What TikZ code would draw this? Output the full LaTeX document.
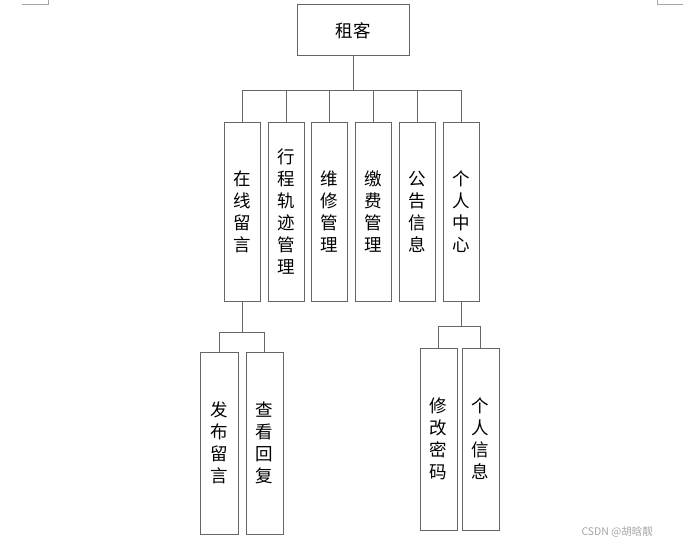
\documentclass[tikz,border=0pt]{standalone}
\usepackage{fontspec}
\setmainfont{Noto Sans CJK SC}
\begin{document}
\begin{tikzpicture}[x=1pt,y=-1pt,
  box/.style={draw=black!60,line width=1pt,fill=white,inner sep=0pt,align=center,font=\fontsize{17.5}{22}\selectfont},
  vbox/.style={box,minimum width=36pt,minimum height=178pt},
  lbox/.style={box,minimum width=37pt,minimum height=182pt},
  link/.style={draw=black!60,line width=1pt},
  cornermark/.style={draw=black!35,line width=0.8pt}]
\useasboundingbox[fill=white] (0,0) rectangle (700,545);
% corner marks
\coordinate (tl1) at (22,4); \coordinate (tl2) at (48,4); \coordinate (tl3) at (48,0);
\coordinate (tr1) at (683,4); \coordinate (tr2) at (657,4); \coordinate (tr3) at (657,0);
\draw[cornermark] (tl1) -- (tl2) -- (tl3);
\draw[cornermark] (tr1) -- (tr2) -- (tr3);
% root
\node[box,minimum width=112pt,minimum height=51pt] (root) at (353,30.5) {租客};
% level 1
\node[vbox] (c1) at (242,212) {在\\线\\留\\言};
\node[vbox] (c2) at (286,212) {行\\程\\轨\\迹\\管\\理};
\node[vbox] (c3) at (329,212) {维\\修\\管\\理};
\node[vbox] (c4) at (373,212) {缴\\费\\管\\理};
\node[vbox] (c5) at (417,212) {公\\告\\信\\息};
\node[vbox] (c6) at (461,212) {个\\人\\中\\心};
% level 2
\node[lbox,minimum width=38pt] (d1) at (219,443) {发\\布\\留\\言};
\node[lbox] (d2) at (264.5,443) {查\\看\\回\\复};
\node[lbox] (e1) at (438.5,439) {修\\改\\密\\码};
\node[lbox] (e2) at (480.5,439) {个\\人\\信\\息};
% connectors
\coordinate (b0) at (353,91);
\draw[link] (root.south) -- (b0);
\foreach \c in {c1,c2,c3,c4,c5,c6}{
  \draw[link] (b0) -| (\c.north);
}
\coordinate (b1) at (242,332);
\draw[link] (c1.south) -- (b1);
\draw[link] (b1) -| (d1.north);
\draw[link] (b1) -| (d2.north);
\coordinate (b2) at (461,326);
\draw[link] (c6.south) -- (b2);
\draw[link] (b2) -| (e1.north);
\draw[link] (b2) -| (e2.north);
% watermark
\node[text=black!35,font=\fontsize{10.5}{11}\selectfont,anchor=east,inner sep=0pt] (wm) at (653,532) {CSDN @胡晗靓};
\end{tikzpicture}
\end{document}
